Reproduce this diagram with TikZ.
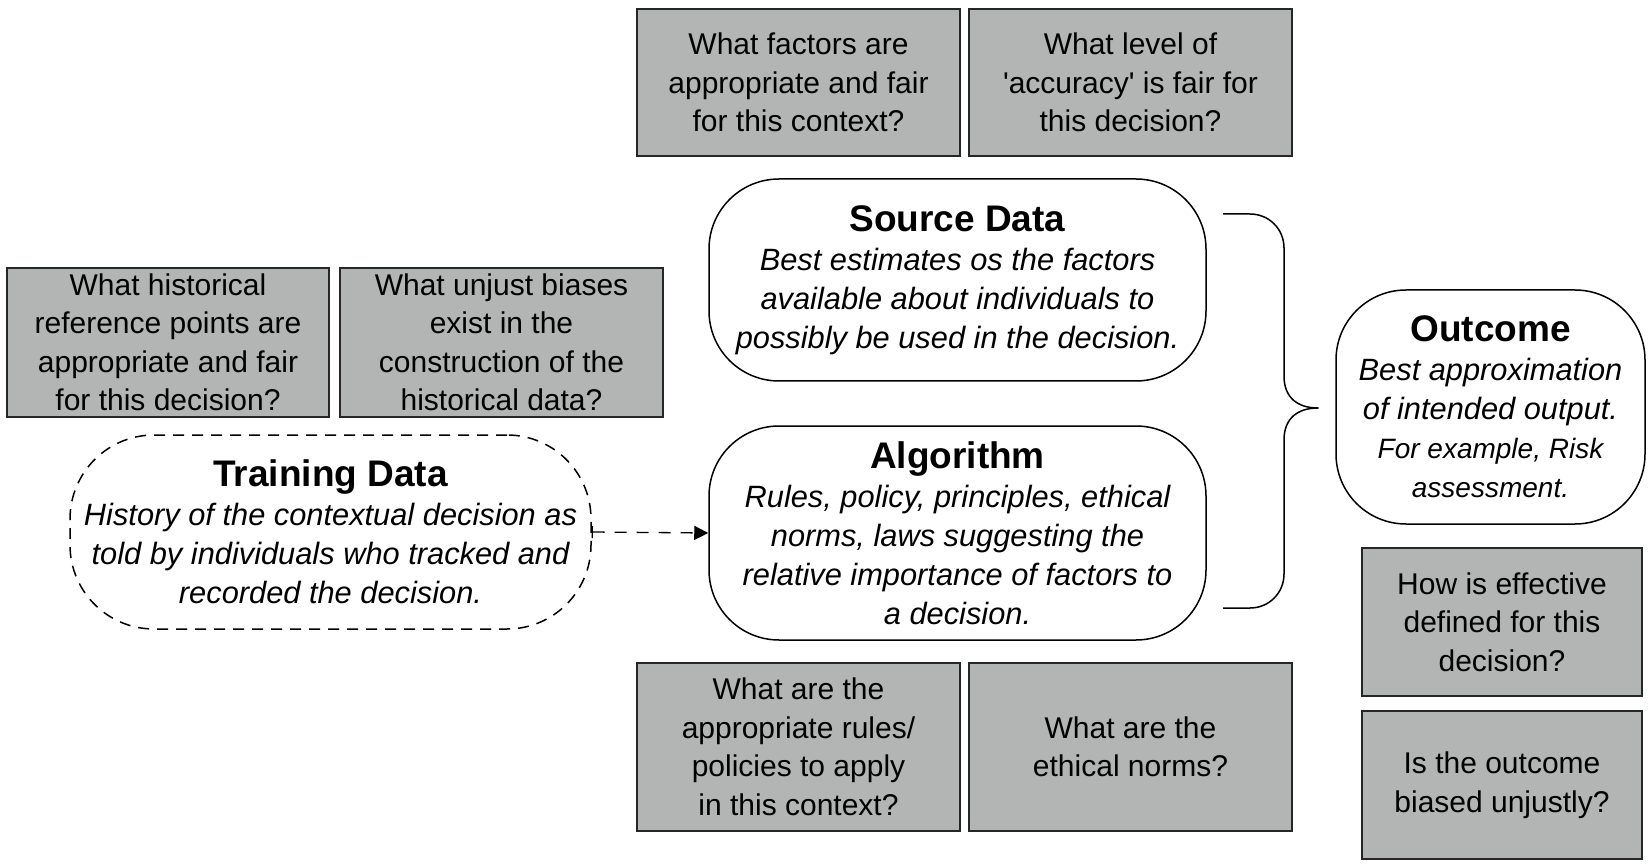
\documentclass[tikz,border=0pt]{standalone}
\usepackage{fontspec}
\setmainfont{Liberation Sans}
\usetikzlibrary{arrows.meta}
\definecolor{boxgray}{RGB}{179,181,181}
\newcommand\boxtitle[1]{{\fontsize{18.5}{19.5}\selectfont\bfseries\upshape #1}}
\tikzset{
  qbox/.style={draw=black!85, line width=0.7pt, fill=boxgray, align=center, inner sep=0pt,
    font=\fontsize{15}{19.25}\selectfont},
  mainbox/.style={draw=black, line width=0.75pt, rounded corners=35pt, fill=white, align=center,
    inner sep=0pt, font=\fontsize{15.4}{19.5}\selectfont\itshape},
  dashbox/.style={mainbox, rounded corners=42pt, dash pattern=on 5.5pt off 4pt},
  flowarrow/.style={line width=0.65pt, dash pattern=on 6pt off 5pt,
    {Bar[width=6pt,line width=0.6pt]}-{Triangle[length=7pt,width=7pt]}},
  bracepath/.style={line width=0.75pt, line join=round}
}
\begin{document}
\begin{tikzpicture}[x=0.5pt,y=-0.5pt]
\useasboundingbox (0,0) rectangle (1650,866);
% question boxes
\node[qbox, minimum width=161.5pt, minimum height=73.5pt] (t1) at (798.5,82.5)
  {What factors are\\appropriate and fair\\for this context?};
\node[qbox, minimum width=161.5pt, minimum height=73.5pt] (t2) at (1130.5,82.5)
  {What level of\\\textquotesingle accuracy\textquotesingle\ is fair for\\this decision?};
\node[qbox, minimum width=161pt, minimum height=74.5pt] (l1) at (168,342.5)
  {What historical\\reference points are\\appropriate and fair\\for this decision?};
\node[qbox, minimum width=161.5pt, minimum height=74.5pt] (l2) at (501.5,342.5)
  {What unjust biases\\exist in the\\construction of the\\historical data?};
\node[qbox, minimum width=161.5pt, minimum height=84pt] (b1) at (798.5,747)
  {What are the\\appropriate rules/\\policies to apply\\in this context?};
\node[qbox, minimum width=161.5pt, minimum height=84pt] (b2) at (1130.5,747)
  {What are the\\ethical norms?};
\node[qbox, minimum width=140pt, minimum height=74pt] (r1) at (1502,622)
  {How is effective\\defined for this\\decision?};
\node[qbox, minimum width=140pt, minimum height=74pt] (r2) at (1502,785)
  {Is the outcome\\biased unjustly?};
% main boxes
\node[mainbox, minimum width=248.5pt, minimum height=101pt] (src) at (957.5,280)
  {\boxtitle{Source Data}\\Best estimates os the factors\\available about individuals to\\possibly be used in the decision.};
\node[mainbox, minimum width=248.5pt, minimum height=107pt] (alg) at (957.5,533)
  {\boxtitle{Algorithm}\\Rules, policy, principles, ethical\\norms, laws suggesting the\\relative importance of factors to\\a decision.};
\node[mainbox, minimum width=154.5pt, minimum height=117pt] (out) at (1490.5,407)
  {\boxtitle{Outcome}\\Best approximation\\of intended output.\\{\fontsize{14}{19.5}\selectfont For example, Risk}\\{\fontsize{14}{19.5}\selectfont assessment.}};
\node[dashbox, minimum width=260.5pt, minimum height=97pt] (trn) at (330.5,532)
  {\boxtitle{Training Data}\\History of the contextual decision as\\told by individuals who tracked and\\recorded the decision.};
% connector
\draw[flowarrow] (trn.east) -- (alg.west);
% brace
\coordinate (btop) at (1223,214);
\coordinate (bbot) at (1223,608);
\coordinate (btip) at (1318,408);
\draw[bracepath] (btop) -- (1250,214) .. controls (1269,214) and (1284,229) .. (1284,248)
  -- (1284,376) .. controls (1284,398) and (1298,408) .. (btip)
  .. controls (1298,408) and (1284,418) .. (1284,440)
  -- (1284,574) .. controls (1284,593) and (1269,608) .. (1250,608) -- (bbot);
\end{tikzpicture}
\end{document}
